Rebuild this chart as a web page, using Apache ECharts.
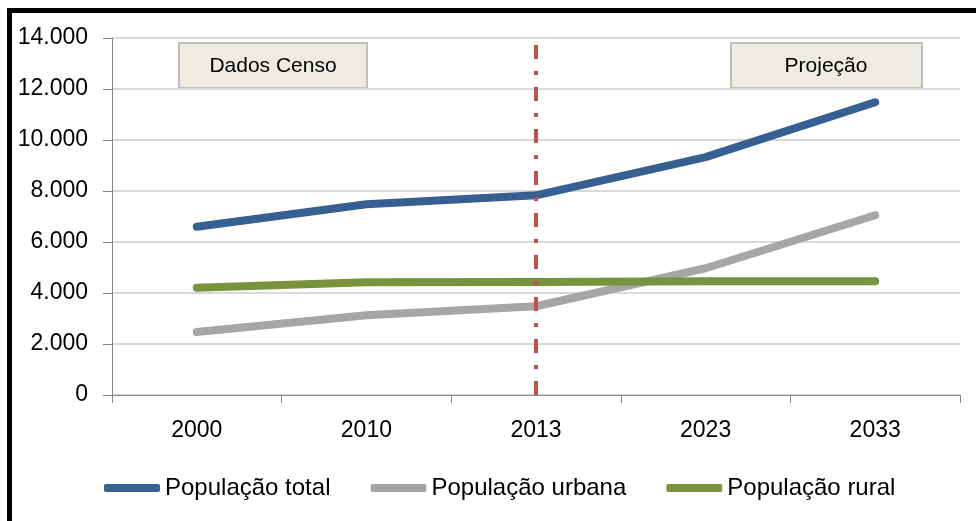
<!DOCTYPE html>
<html>
<head>
<meta charset="utf-8">
<script src="https://cdn.jsdelivr.net/npm/echarts@6/dist/echarts.min.js"></script>
<style>
  html, body { margin: 0; padding: 0; background: #fff; }
  #chart { width: 976px; height: 521px; }
</style>
</head>
<body>
<div id="chart"></div>
<script>
// dados
const anos = ['2000', '2010', '2013', '2023', '2033']
const popTotal = [6600, 7480, 7830, 9330, 11480]
const popUrbana = [2470, 3130, 3480, 4970, 7050]
const popRural = [4210, 4420, 4430, 4460, 4460]
const nomes = ['População total', 'População urbana', 'População rural']
const cores = ['#376092', '#a6a6a6', '#77933c']
const anoCorte = '2013'

const fmtMilhar = v => String(v).replace(/\B(?=(\d{3})+(?!\d))/g, '.')

const chart = echarts.init(document.getElementById('chart'))

const serieLinha = (nome, dados, cor) => ({
  name: nome,
  type: 'line',
  data: dados,
  symbol: 'none',
  lineStyle: { color: cor, width: 8, cap: 'round', join: 'round' },
  itemStyle: { color: cor }
})

const series = [
  serieLinha(nomes[0], popTotal, cores[0]),
  serieLinha(nomes[1], popUrbana, cores[1]),
  serieLinha(nomes[2], popRural, cores[2])
]

// linha vertical de corte (censo / projeção)
series[0].markLine = {
  silent: true,
  symbol: 'none',
  label: { show: false },
  lineStyle: { color: '#c0504d', width: 4, type: [14, 12, 4, 12], opacity: 1 },
  emphasis: { disabled: true },
  data: [{ xAxis: anoCorte }]
}

chart.setOption({
  animation: false,
  backgroundColor: '#fff',
  grid: { left: 112, right: 16, top: 38, bottom: 126 },
  xAxis: {
    type: 'category',
    data: anos,
    boundaryGap: true,
    axisLine: { lineStyle: { color: '#868686', width: 1 } },
    axisTick: { show: true, length: 8, lineStyle: { color: '#868686' } },
    axisLabel: { color: '#000', fontSize: 23, fontFamily: 'Liberation Sans', margin: 24 }
  },
  yAxis: {
    type: 'value',
    min: 0,
    max: 14000,
    interval: 2000,
    axisLine: { show: true, lineStyle: { color: '#868686', width: 1 } },
    axisTick: { show: true, length: 9, lineStyle: { color: '#868686' } },
    axisLabel: { color: '#000', fontSize: 23, fontFamily: 'Liberation Sans', margin: 24, formatter: fmtMilhar },
    splitLine: { lineStyle: { color: '#d9d9d9', width: 2 } }
  },
  legend: {
    data: nomes,
    left: 99,
    top: 471,
    itemGap: 40,
    itemWidth: 56,
    itemHeight: 8,
    icon: 'roundRect',
    textStyle: { color: '#000', fontSize: 24, fontFamily: 'Liberation Sans' }
  },
  series: series,
  graphic: [
    { type: 'rect', shape: { x: 7, y: 8, width: 969, height: 5 }, style: { fill: '#000' } },
    { type: 'rect', shape: { x: 7, y: 8, width: 5, height: 513 }, style: { fill: '#000' } },
    {
      type: 'group', left: 178, top: 42,
      children: [
        { type: 'rect', shape: { x: 0, y: 0, width: 188, height: 45 }, style: { fill: '#eeece1', stroke: '#bfbfbf', lineWidth: 2 } },
        { type: 'text', x: 94, y: 23, style: { text: 'Dados Censo', fill: '#000', font: '21px "Liberation Sans"', align: 'center', verticalAlign: 'middle' } }
      ]
    },
    {
      type: 'group', left: 730, top: 42,
      children: [
        { type: 'rect', shape: { x: 0, y: 0, width: 191, height: 45 }, style: { fill: '#eeece1', stroke: '#bfbfbf', lineWidth: 2 } },
        { type: 'text', x: 95, y: 23, style: { text: 'Projeção', fill: '#000', font: '21px "Liberation Sans"', align: 'center', verticalAlign: 'middle' } }
      ]
    }
  ]
})
</script>
</body>
</html>
